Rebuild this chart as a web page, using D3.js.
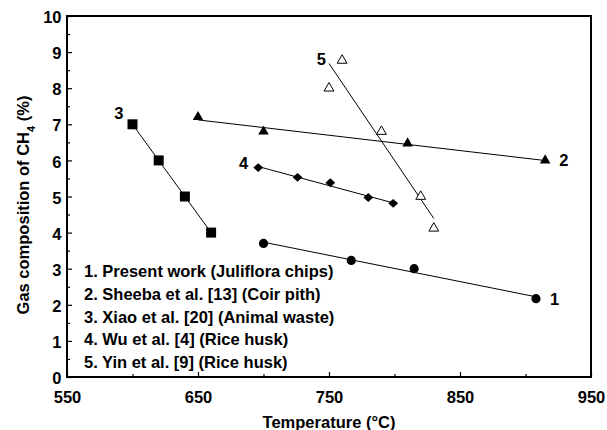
<!DOCTYPE html>
<html>
<head>
<meta charset="utf-8">
<script src="https://cdn.jsdelivr.net/npm/d3@7"></script>
<style>
  html, body { margin: 0; padding: 0; background: #fff; }
  svg { display: block; font-family: "Liberation Sans", Arial, sans-serif; font-weight: bold; }
</style>
</head>
<body>
<svg id="chart" width="607" height="430"></svg>
<script>
// ---- data ----
const legendLabels = [
  "1. Present work (Juliflora chips)",
  "2. Sheeba et al. [13] (Coir pith)",
  "3. Xiao et al. [20] (Animal waste)",
  "4. Wu et al. [4] (Rice husk)",
  "5. Yin et al. [9] (Rice husk)"
];
const seriesIds = ["1", "2", "3", "4", "5"];
const temps1 = [700, 767, 815, 908];
const ch4_1  = [3.7, 3.23, 3.0, 2.17];
const temps2 = [650, 700, 810, 915];
const ch4_2  = [7.2, 6.8, 6.47, 6.0];
const temps3 = [600, 620, 640, 660];
const ch4_3  = [7.0, 6.0, 5.0, 4.0];
const temps4 = [696, 726, 751, 780, 799];
const ch4_4  = [5.8, 5.53, 5.38, 4.97, 4.81];
const temps5 = [760, 750, 790, 820, 830];
const ch4_5  = [8.77, 8.0, 6.8, 5.0, 4.12];
const xMajorTicks = [550, 650, 750, 850, 950];
const xMinorTicks = [600, 700, 800, 900];
const yMajorTicks = [0, 1, 2, 3, 4, 5, 6, 7, 8, 9, 10];
const yMinorTicks = [0.5, 1.5, 2.5, 3.5, 4.5, 5.5, 6.5, 7.5, 8.5, 9.5];

// ---- layout ----
const W = 607, H = 430;
const margin = { left: 67, top: 16, right: 16, bottom: 53 };
const iw = W - margin.left - margin.right;
const ih = H - margin.top - margin.bottom;
const FS = 16.5;

const svg = d3.select("#chart");
const g = svg.append("g").attr("transform", `translate(${margin.left},${margin.top})`);

const x = d3.scaleLinear().domain([550, 950]).range([0, iw]);
const y = d3.scaleLinear().domain([0, 10]).range([ih, 0]);

// ---- axes ----
const xMaj = g.append("g").attr("transform", `translate(0,${ih})`)
  .call(d3.axisBottom(x).tickValues(xMajorTicks).tickSize(-5).tickSizeOuter(0).tickFormat(d3.format("d")));
const xMin = g.append("g").attr("transform", `translate(0,${ih})`)
  .call(d3.axisBottom(x).tickValues(xMinorTicks).tickSize(-3).tickSizeOuter(0).tickFormat(""));
const yMaj = g.append("g")
  .call(d3.axisLeft(y).tickValues(yMajorTicks).tickSize(-5).tickSizeOuter(0).tickFormat(d3.format("d")));
const yMin = g.append("g")
  .call(d3.axisLeft(y).tickValues(yMinorTicks).tickSize(-3).tickSizeOuter(0).tickFormat(""));

[xMaj, xMin, yMaj, yMin].forEach(a => {
  a.select(".domain").remove();
  a.selectAll("line").attr("stroke", "#000").attr("stroke-width", 1.2);
  a.selectAll("text").attr("fill", "#000")
    .style("font-size", FS + "px").style("font-weight", "bold")
    .style("font-family", '"Liberation Sans", Arial, sans-serif');
});
xMaj.selectAll("text").attr("y", 25.5).attr("dy", "0");
yMaj.selectAll("text").attr("x", -5.5).attr("dy", "0.4em");

// frame
g.append("rect").attr("x", 0).attr("y", 0).attr("width", iw).attr("height", ih)
  .attr("fill", "none").attr("stroke", "#000").attr("stroke-width", 2);

// ---- series ----
function fitLine(xs, ys) {
  const n = xs.length;
  const mx = d3.mean(xs), my = d3.mean(ys);
  let sxy = 0, sxx = 0;
  for (let i = 0; i < n; i++) { sxy += (xs[i] - mx) * (ys[i] - my); sxx += (xs[i] - mx) ** 2; }
  const b = sxy / sxx, a = my - b * mx;
  const x0 = d3.min(xs), x1 = d3.max(xs);
  return [[x0, a + b * x0], [x1, a + b * x1]];
}

const diamondType = {
  draw(ctx, size) {
    const w = Math.sqrt(size) * 0.55, h = Math.sqrt(size) * 0.5;
    ctx.moveTo(0, -h); ctx.lineTo(w, 0); ctx.lineTo(0, h); ctx.lineTo(-w, 0); ctx.closePath();
  }
};

const series = [
  { xs: temps1, ys: ch4_1, sym: d3.symbolCircle, size: 66, fill: "#000" },
  { xs: temps2, ys: ch4_2, sym: d3.symbolTriangle, size: 48, fill: "#000" },
  { xs: temps3, ys: ch4_3, sym: d3.symbolSquare, size: 100, fill: "#000" },
  { xs: temps4, ys: ch4_4, sym: diamondType, size: 80, fill: "#000" },
  { xs: temps5, ys: ch4_5, sym: d3.symbolTriangle, size: 42, fill: "#fff" }
];

const line = d3.line().x(d => x(d[0])).y(d => y(d[1]));
series.forEach(s => {
  g.append("path").datum(fitLine(s.xs, s.ys)).attr("d", line)
    .attr("fill", "none").attr("stroke", "#000").attr("stroke-width", 1);
});
series.forEach(s => {
  const pts = s.xs.map((v, i) => [v, s.ys[i]]);
  g.append("g").selectAll("path").data(pts).join("path")
    .attr("transform", d => `translate(${x(d[0])},${y(d[1])})`)
    .attr("d", d3.symbol().type(s.sym).size(s.size))
    .attr("fill", s.fill)
    .attr("stroke", "#000")
    .attr("stroke-width", s.fill === "#fff" ? 1 : 0);
});

// series number labels (anchored near each series' data)
const labelAnchors = [
  { id: seriesIds[0], xv: 908, yv: 2.17, dx: 14, dy: 6, anchor: "start" },
  { id: seriesIds[1], xv: 915, yv: 6.0, dx: 14, dy: 6, anchor: "start" },
  { id: seriesIds[2], xv: 600, yv: 7.0, dx: -9, dy: -5, anchor: "end" },
  { id: seriesIds[3], xv: 696, yv: 5.8, dx: -10, dy: 1, anchor: "end" },
  { id: seriesIds[4], xv: 750, yv: 8.77, dx: -3, dy: 5, anchor: "end" }
];
g.selectAll("text.slabel").data(labelAnchors).join("text")
  .attr("class", "slabel")
  .attr("x", d => x(d.xv) + d.dx)
  .attr("y", d => y(d.yv) + d.dy)
  .attr("text-anchor", d => d.anchor)
  .style("font-size", FS + "px")
  .text(d => d.id);

// legend text
g.selectAll("text.leg").data(legendLabels).join("text")
  .attr("class", "leg")
  .attr("x", 84 - margin.left)
  .attr("y", (d, i) => 276.7 - margin.top + i * 22.9)
  .style("font-size", FS + "px")
  .text(d => d);

// axis titles
svg.append("text").attr("x", margin.left + iw / 2).attr("y", 428)
  .attr("text-anchor", "middle").style("font-size", FS + "px")
  .text("Temperature (°C)");

const yt = svg.append("text").attr("transform", "rotate(-90)")
  .attr("x", -205).attr("y", 28.5).attr("text-anchor", "middle")
  .style("font-size", FS + "px");
yt.append("tspan").text("Gas composition of CH");
yt.append("tspan").attr("baseline-shift", "sub").style("font-size", "11px").text("4");
yt.append("tspan").text(" (%)");
</script>
</body>
</html>
